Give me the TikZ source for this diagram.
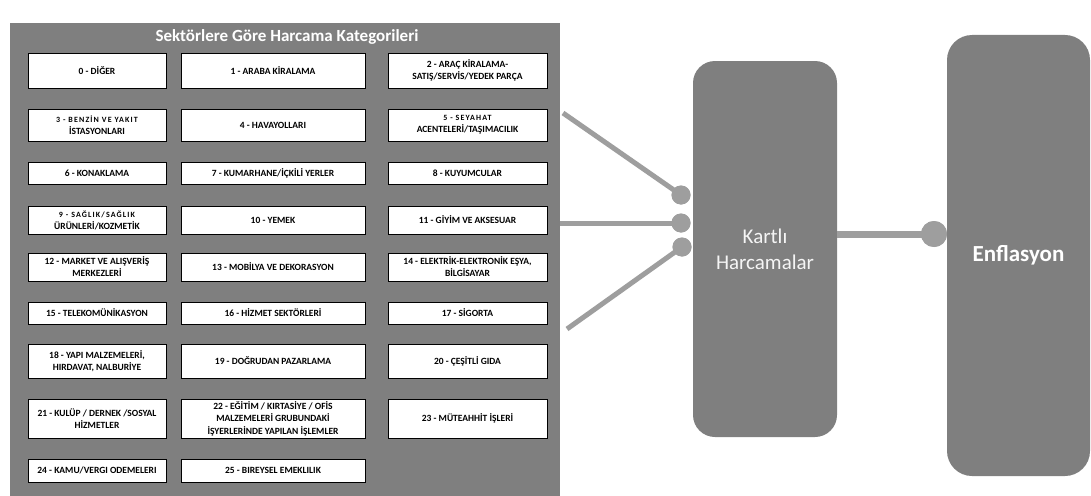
\documentclass[tikz,border=0pt]{standalone}
\usepackage{fontspec}
\setmainfont{Carlito}
\definecolor{panelgrey}{RGB}{127,127,127}
\definecolor{linegrey}{RGB}{158,158,158}
\definecolor{softwhite}{RGB}{245,245,245}
\newcommand\smalltxt[1]{{\fontsize{8}{9}\selectfont\addfontfeature{LetterSpace=14}#1}}
\begin{document}
\begin{tikzpicture}[x=1pt,y=-1pt,
  cat/.style={draw=black, line width=0.8pt, fill=white, rectangle, inner sep=1pt,
    align=center, font=\fontsize{9.5}{12}\selectfont\bfseries, text=black},
  cA/.style={minimum width=138pt},
  cB/.style={minimum width=184pt},
  cC/.style={minimum width=159pt},
  bigbox/.style={fill=panelgrey, rounded corners=23pt, draw=none},
  conn/.style={draw=linegrey, line width=5pt},
  thickconn/.style={draw=linegrey, line width=7pt},
  dot/.style={circle, fill=linegrey, inner sep=0pt, minimum size=19pt},
  bigdot/.style={circle, fill=linegrey, inner sep=0pt, minimum size=26pt}
]
\useasboundingbox (0,0) rectangle (1091,495);

% left panel
\node[fill=panelgrey, minimum width=550.5pt, minimum height=472pt, inner sep=0pt] (panel) at (284.75,259.5) {};
\node[font=\fontsize{17}{20}\selectfont\bfseries, text=white] (title) at (287,37) {Sektörlere Göre Harcama Kategorileri};

% row 0
\node[cat,cA,minimum height=35pt] (b0) at (97,70.5) {0 - DİĞER};
\node[cat,cB,minimum height=35pt] (b1) at (273,70.5) {1 - ARABA KİRALAMA};
\node[cat,cC,minimum height=35pt] (b2) at (467.5,70.5) {2 - ARAÇ KİRALAMA-\\SATIŞ/SERVİS/YEDEK PARÇA};
% row 1
\node[cat,cA,minimum height=32pt] (b3) at (97,125) {\smalltxt{3 - BENZİN VE YAKIT}\\İSTASYONLARI};
\node[cat,cB,minimum height=32pt] (b4) at (273,125) {4 - HAVAYOLLARI};
\node[cat,cC,minimum height=32pt] (b5) at (467.5,125) {\smalltxt{5 - SEYAHAT}\\ACENTELERİ/TAŞIMACILIK};
% row 2
\node[cat,cA,minimum height=22pt] (b6) at (97,173) {6 - KONAKLAMA};
\node[cat,cB,minimum height=22pt] (b7) at (273,173) {7 - KUMARHANE/İÇKİLİ YERLER};
\node[cat,cC,minimum height=22pt] (b8) at (467.5,173) {8 - KUYUMCULAR};
% row 3
\node[cat,cA,minimum height=28pt] (b9) at (97,220) {\smalltxt{9 - SAĞLIK/SAĞLIK}\\ÜRÜNLERİ/KOZMETİK};
\node[cat,cB,minimum height=28pt] (b10) at (273,220) {10 - YEMEK};
\node[cat,cC,minimum height=28pt] (b11) at (467.5,220) {11 - GİYİM VE AKSESUAR};
% row 4
\node[cat,cA,minimum height=28pt] (b12) at (97,267) {12 - MARKET VE ALIŞVERİŞ\\MERKEZLERİ};
\node[cat,cB,minimum height=28pt] (b13) at (273,267) {13 - MOBİLYA VE DEKORASYON};
\node[cat,cC,minimum height=28pt] (b14) at (467.5,267) {14 - ELEKTRİK-ELEKTRONİK EŞYA,\\BİLGİSAYAR};
% row 5
\node[cat,cA,minimum height=22pt] (b15) at (97,313) {15 - TELEKOMÜNİKASYON};
\node[cat,cB,minimum height=22pt] (b16) at (273,313) {16 - HİZMET SEKTÖRLERİ};
\node[cat,cC,minimum height=22pt] (b17) at (467.5,313) {17 - SİGORTA};
% row 6
\node[cat,cA,minimum height=34pt] (b18) at (97,361) {18 - YAPI MALZEMELERİ,\\HIRDAVAT, NALBURİYE};
\node[cat,cB,minimum height=34pt] (b19) at (273,361) {19 - DOĞRUDAN PAZARLAMA};
\node[cat,cC,minimum height=34pt] (b20) at (467.5,361) {20 - ÇEŞİTLİ GIDA};
% row 7
\node[cat,cA,minimum height=39pt] (b21) at (97,418.5) {21 - KULÜP / DERNEK /SOSYAL\\HİZMETLER};
\node[cat,cB,minimum height=39pt, inner sep=0pt, font=\fontsize{9.5}{12.5}\selectfont\bfseries] (b22) at (273,418.5) {22 - EĞİTİM / KIRTASİYE / OFİS\\MALZEMELERİ GRUBUNDAKİ\\İŞYERLERİNDE YAPILAN İŞLEMLER};
\node[cat,cC,minimum height=39pt] (b23) at (467.5,418.5) {23 - MÜTEAHHİT İŞLERİ};
% row 8
\node[cat,cA,minimum height=23pt] (b24) at (97,470.5) {24 - KAMU/VERGI ODEMELERI};
\node[cat,cB,minimum height=23pt] (b25) at (273,470.5) {25 - BIREYSEL EMEKLILIK};

% right boxes
\node[bigbox, rounded corners=22pt, minimum width=144pt, minimum height=376pt,
  align=center, text=softwhite, font=\fontsize{21}{26}\selectfont] (kart) at (765,249) {Kartlı\\Harcamalar};
\node[bigbox, rounded corners=25pt, minimum width=143pt, minimum height=441pt,
  text=white, font=\fontsize{23}{28}\selectfont\bfseries] (enf) at (1018.5,255.5) {Enflasyon};

% connectors
\coordinate (s1) at (563,113);
\coordinate (s3) at (567,329);
\node[dot] (d1) at (681,195) {};
\node[dot] (d2) at (681,223) {};
\node[dot] (d3) at (682,247) {};
\node[bigdot] (d4) at (934,234) {};
\draw[conn] (s1) -- (d1.center);
\draw[conn] (panel.east |- d2) -- (d2.center);
\draw[conn] (s3) -- (d3.center);
\draw[thickconn] (kart.east |- d4) -- (d4.center);
\node[dot] at (d1) {};
\node[dot] at (d2) {};
\node[dot] at (d3) {};
\node[bigdot] at (d4) {};
\end{tikzpicture}
\end{document}
